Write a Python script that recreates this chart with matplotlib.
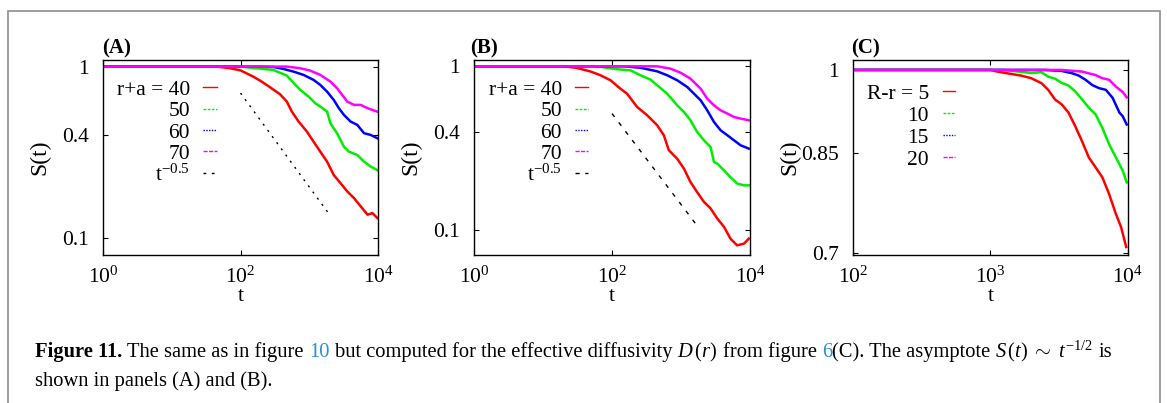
import numpy as np
import matplotlib.pyplot as plt
from matplotlib.patches import Rectangle

plt.rcParams['font.family'] = ['Liberation Serif', 'DejaVu Serif']
plt.rcParams['mathtext.fontset'] = 'custom'
plt.rcParams['mathtext.rm'] = 'Liberation Serif'
plt.rcParams['mathtext.it'] = 'Liberation Serif:italic'
plt.rcParams['mathtext.bf'] = 'Liberation Serif:bold'

RED, GREEN, BLUE, MAGENTA = '#ff0000', '#00ee00', '#0000ff', '#ff00ff'

# ---- panel (A): r+a = 40..70 ----
tA40 = [1, 45, 71, 100, 153, 203, 269, 376, 472, 557, 699, 923, 1155, 1448, 1815,
        2275, 2852, 3575, 4480, 5617, 7042, 8285, 9785]
sA40 = [1, 1, 0.978, 0.95, 0.874, 0.817, 0.757, 0.689, 0.624, 0.546, 0.477, 0.417, 0.364,
        0.318, 0.278, 0.232, 0.208, 0.186, 0.170, 0.152, 0.136, 0.139, 0.130]
tA50 = [1, 98, 171, 300, 472, 557, 740, 978, 1225, 1448, 1815, 2030, 2540, 3190, 3780,
        5000, 6260, 7850, 9785]
sA50 = [1, 1, 0.978, 0.956, 0.886, 0.824, 0.730, 0.668, 0.610, 0.584, 0.546, 0.466, 0.407,
        0.340, 0.318, 0.304, 0.278, 0.260, 0.248]
tA60 = [1, 192, 300, 421, 589, 826, 1155, 1448, 1815, 2275, 2698, 3190, 3990, 5000, 6260,
        7850, 9785]
sA60 = [1, 1, 0.995, 0.969, 0.935, 0.894, 0.836, 0.781, 0.714, 0.638, 0.571, 0.522, 0.477,
        0.456, 0.408, 0.398, 0.381]
tA70 = [1, 472, 740, 1036, 1448, 2030, 2540, 3010, 3575, 4480, 5617, 7042, 9785]
sA70 = [1, 1, 0.978, 0.947, 0.894, 0.817, 0.747, 0.683, 0.624, 0.597, 0.597, 0.571, 0.545]
tA_fit = [100, 1850]
sA_fit = [0.70, 0.141]

# ---- panel (B): r+a = 40..70 ----
tB40 = [1, 20, 30, 40, 48, 68, 95, 132, 165, 231, 323, 451, 563, 665, 880, 1100, 1370,
        1710, 2150, 2680, 3350, 4200, 5200, 6500, 8200, 9600]
sB40 = [1, 1, 0.98, 0.95, 0.932, 0.882, 0.822, 0.731, 0.681, 0.565, 0.503, 0.437, 0.380,
        0.308, 0.273, 0.238, 0.197, 0.171, 0.149, 0.136, 0.118, 0.105, 0.089, 0.081, 0.083,
        0.089]
tB50 = [1, 60, 118, 185, 258, 360, 451, 630, 880, 1100, 1370, 1710, 2150, 2680, 3000,
        3350, 4200, 5200, 6500, 8200, 9600]
sB50 = [1, 1, 0.96, 0.945, 0.882, 0.83, 0.766, 0.681, 0.578, 0.527, 0.469, 0.398, 0.354,
        0.322, 0.261, 0.255, 0.232, 0.211, 0.193, 0.188, 0.188]
tB60 = [1, 148, 258, 451, 630, 880, 1230, 1540, 1920, 2400, 3000, 3750, 4690, 5850, 7300,
        9600]
sB60 = [1, 1, 0.98, 0.932, 0.882, 0.822, 0.748, 0.681, 0.621, 0.539, 0.458, 0.407, 0.380,
        0.354, 0.330, 0.315]
tB70 = [1, 451, 700, 980, 1370, 1920, 2400, 3000, 3750, 4690, 5850, 7300, 9600]
sB70 = [1, 1, 0.968, 0.915, 0.841, 0.731, 0.635, 0.578, 0.539, 0.515, 0.491, 0.480, 0.469]
tB_fit = [100, 1620]
sB_fit = [0.515, 0.110]

# ---- panel (C): R-r = 5..20 ----
tC5 = [100, 1000, 1120, 1405, 1670, 1980, 2350, 2630, 2950, 3300, 3700, 4140, 4640, 5200,
       5820, 6520, 7300, 8180, 8920, 9720]
sC5 = [1, 1, 0.9968, 0.9923, 0.989, 0.984, 0.9745, 0.962, 0.944, 0.935, 0.920, 0.896,
       0.870, 0.843, 0.827, 0.811, 0.785, 0.755, 0.736, 0.708]
tC10 = [100, 1255, 1575, 1980, 2350, 2630, 2950, 3300, 3700, 4140, 4640, 5200, 5820, 6520,
        7300, 8180, 9150, 9800]
sC10 = [1, 1, 0.997, 0.994, 0.9955, 0.987, 0.983, 0.975, 0.970, 0.959, 0.944, 0.929, 0.917,
        0.893, 0.865, 0.843, 0.822, 0.803]
tC15 = [100, 2480, 3300, 3920, 4390, 4920, 5500, 6170, 6910, 7740, 8680, 9150, 9800]
sC15 = [1, 1, 0.998, 0.9936, 0.989, 0.981, 0.971, 0.965, 0.962, 0.947, 0.920, 0.914, 0.899]
tC20 = [100, 3300, 4640, 5820, 6520, 7300, 8180, 9150, 9800]
sC20 = [1, 1, 0.9968, 0.990, 0.984, 0.981, 0.968, 0.958, 0.948]

fig = plt.figure(figsize=(11.67, 4.03), dpi=100)


def setup(ax, xlim, ylim, xticks, xlabels, yticks, ylabels, tag):
    ax.set_xscale('log')
    ax.set_yscale('log')
    ax.set_xlim(xlim)
    ax.set_ylim(ylim)
    ax.set_xticks(xticks, xlabels)
    ax.set_yticks(yticks, ylabels)
    ax.minorticks_off()
    ax.tick_params(direction='in', top=True, right=True, length=3.5, width=0.8,
                   labelsize=15.5)
    ax.tick_params(axis='x', pad=8)
    ax.tick_params(axis='y', pad=10)
    for sp in ax.spines.values():
        sp.set_linewidth(1.0)
    ax.set_xlabel('t', fontsize=16)
    ax.xaxis.label.set_va('baseline')
    ax.xaxis.set_label_coords(0.5, -0.235)
    ax.set_ylabel('S(t)', fontsize=17)
    ax.yaxis.label.set_va('center')
    ax.yaxis.set_label_coords(-0.23, 0.5)
    ax.text(-0.005, 1.033, tag, transform=ax.transAxes, fontsize=15,
            fontweight='bold', va='baseline')


def key(ax, labels, styles, xr, y0, dy, x0, x1):
    for i, lab in enumerate(labels):
        y = y0 - i * dy
        ax.text(xr, y, lab, transform=ax.transAxes, ha='right', va='baseline',
                fontsize=15.5)
        c, ls = styles[i]
        ax.plot([x0, x1], [y + 0.04, y + 0.04], transform=ax.transAxes, color=c,
                ls=ls, lw=1.0)


styles = [(RED, '-'), (GREEN, (0, (2, 1))), (BLUE, (0, (1, 1))), (MAGENTA, (0, (3, 1))),
          ('black', (0, (2, 4)))]
tlab = [r'$10^{0}$', r'$10^{2}$', r'$10^{4}$']

# (A)
axA = fig.add_axes([0.0883, 0.3672, 0.2356, 0.4851])
for t, s, c in [(tA40, sA40, RED), (tA50, sA50, GREEN), (tA60, sA60, BLUE),
                (tA70, sA70, MAGENTA)]:
    axA.plot(t, s, color=c, lw=1.8)
axA.plot(tA_fit, sA_fit, color='black', lw=1.0, ls=(0, (1.5, 4)))
setup(axA, (1, 1e4), (0.079, 1.10), [1, 1e2, 1e4], tlab, [0.1, 0.4, 1],
      ['0.1', '0.4', '1'], '(A)')
key(axA, ['r+a = 40', '50', '60', '70', r'$\mathrm{t}^{-0.5}$'], styles,
    0.316, 0.818, 0.109, 0.364, 0.415)

# (B)
axB = fig.add_axes([0.4062, 0.3672, 0.2365, 0.4851])
for t, s, c in [(tB40, sB40, RED), (tB50, sB50, GREEN), (tB60, sB60, BLUE),
                (tB70, sB70, MAGENTA)]:
    axB.plot(t, s, color=c, lw=1.8)
axB.plot(tB_fit, sB_fit, color='black', lw=1.0, ls=(0, (3, 5)))
setup(axB, (1, 1e4), (0.0707, 1.10), [1, 1e2, 1e4], tlab, [0.1, 0.4, 1],
      ['0.1', '0.4', '1'], '(B)')
axB.texts[-1].set_x(-0.014)
key(axB, ['r+a = 40', '50', '60', '70', r'$\mathrm{t}^{-0.5}$'],
    styles[:4] + [('black', (0, (3, 4)))], 0.319, 0.818, 0.109, 0.366, 0.413)

# (C)
axC = fig.add_axes([0.7309, 0.3672, 0.2356, 0.4851])
for t, s, c in [(tC5, sC5, RED), (tC10, sC10, GREEN), (tC15, sC15, BLUE),
                (tC20, sC20, MAGENTA)]:
    axC.plot(t, s, color=c, lw=1.8)
setup(axC, (1e2, 1e4), (0.697, 1.0205), [1e2, 1e3, 1e4],
      [r'$10^{2}$', r'$10^{3}$', r'$10^{4}$'], [0.7, 0.85, 1], ['0.7', '0.85', '1'], '(C)')
key(axC, ['R-r = 5', '10', '15', '20'], styles[:4], 0.276, 0.80, 0.113, 0.327, 0.371)

# frame around the figure
fig.add_artist(Rectangle((8 / 1167, -0.2), 1152 / 1167, 1.2 - 11 / 403,
                         transform=fig.transFigure, fill=False, ec='#8c8c8c', lw=1.2))

# caption, laid out piece by piece
BLUE_LINK = '#2a8fcf'
line1 = [('Figure 11.', 'bold', 'black', False),
         ('The same as in figure', 'normal', 'black', True),
         ('10', 'normal', BLUE_LINK, True),
         ('but computed for the effective diffusivity', 'normal', 'black', True),
         (r'$D\,(r)$', 'normal', 'black', True),
         ('from figure', 'normal', 'black', True),
         ('6', 'normal', BLUE_LINK, True),
         ('(C). The asymptote', 'normal', 'black', False),
         (r'$S\,(t)\ \sim\ t^{-1/2}$', 'normal', 'black', True),
         ('is', 'normal', 'black', True)]
line2 = [('shown in panels (A) and (B).', 'normal', 'black', False)]

r = fig.canvas.get_renderer()
W, H = 1167.0, 403.0


def layout(pieces, x0, ybase, size):
    probe = fig.text(0, 0, 'x x', fontsize=size)
    probe2 = fig.text(0, 0, 'xx', fontsize=size)
    gap = probe.get_window_extent(r).width - probe2.get_window_extent(r).width
    probe.remove()
    probe2.remove()
    x = x0
    out = []
    for txt, wt, col, sp in pieces:
        if sp:
            x += gap
        t = fig.text(x / W, ybase, txt, fontsize=size, fontweight=wt, color=col,
                     va='baseline')
        x += t.get_window_extent(r).width
        out.append(t)
    return out, x - x0


base = 13.0
objs, width = layout(line1, 35, (H - 357) / H, base)
for o in objs:
    o.remove()
size = base * 1077 / width
layout(line1, 35, (H - 357) / H, size)
layout(line2, 35, (H - 386) / H, size)

fig.savefig('out.png', dpi=100)
